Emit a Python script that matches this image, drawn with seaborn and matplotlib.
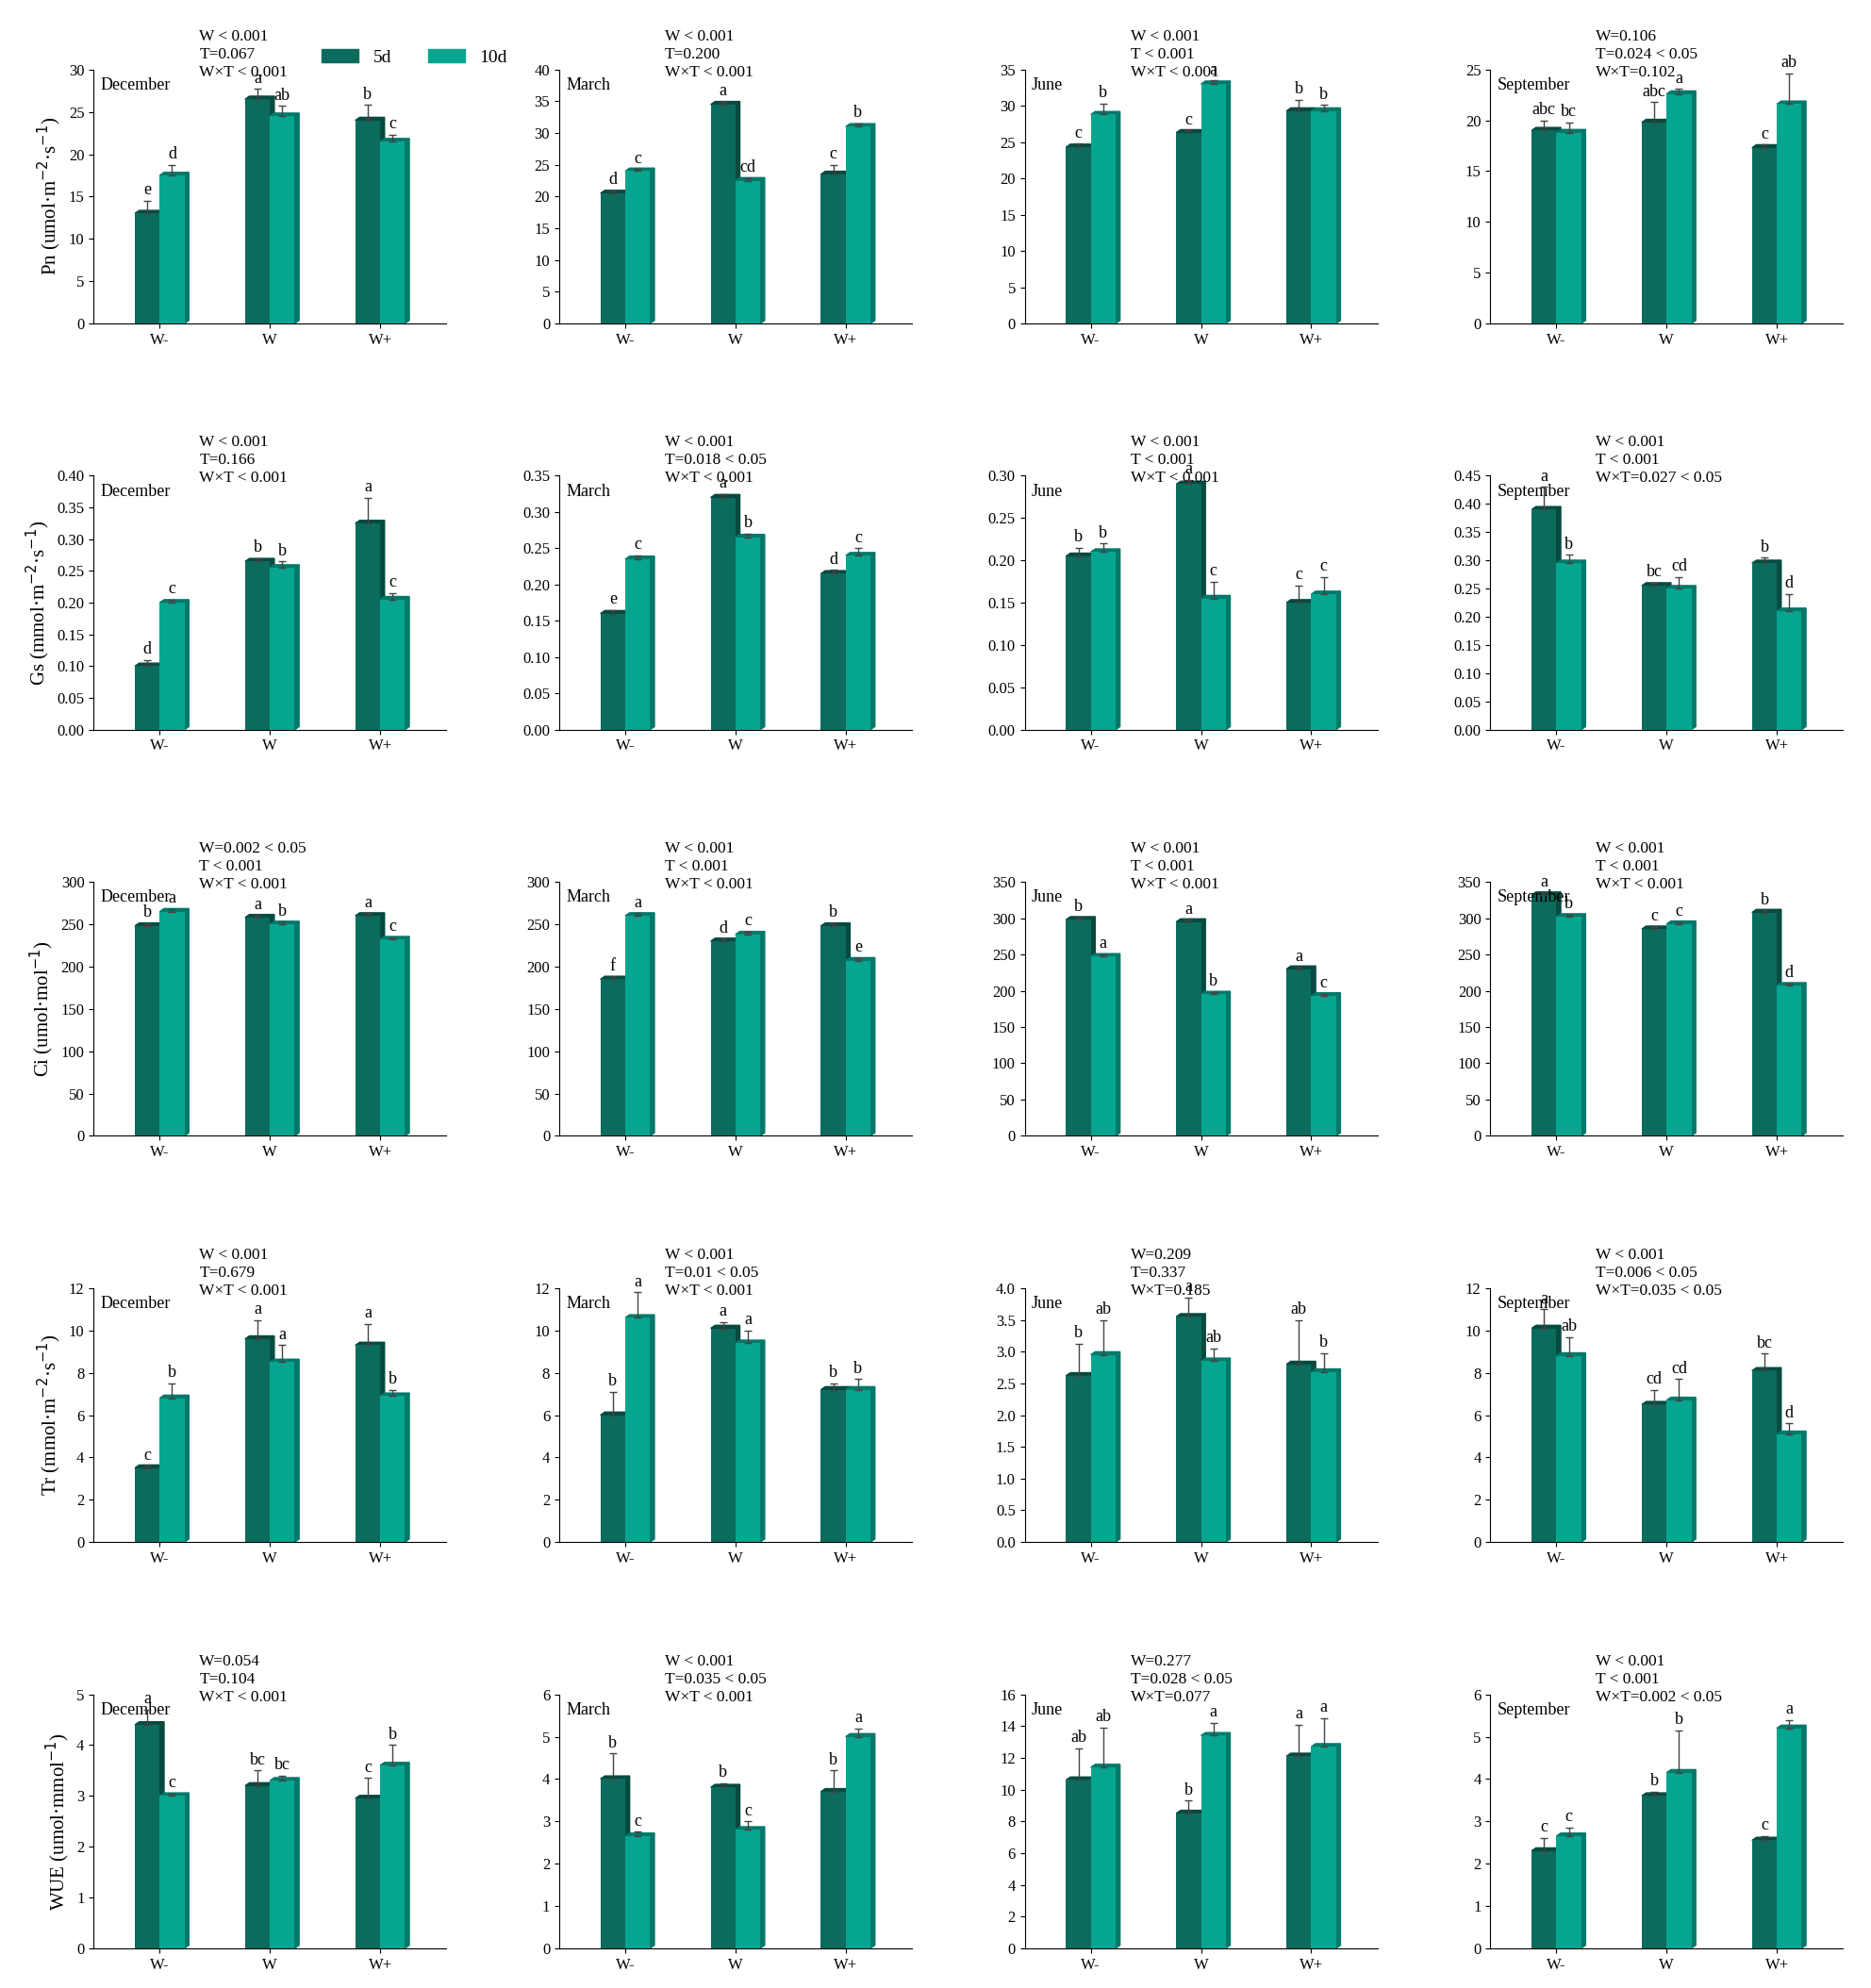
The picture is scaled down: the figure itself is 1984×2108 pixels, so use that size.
import pandas as pd
import matplotlib.pyplot as plt
import seaborn as sns
from matplotlib.patches import Polygon, Patch

plt.rcParams['font.family'] = 'Liberation Serif'

# ---------------- data ----------------
months = ['December', 'March', 'June', 'September']
water = ['W-', 'W', 'W+']
treat = ['5d', '10d']

ylabels = ['Pn (umol·m$^{-2}$·s$^{-1}$)', 'Gs (mmol·m$^{-2}$·s$^{-1}$)',
           'Ci (umol·mol$^{-1}$)', 'Tr (mmol·m$^{-2}$·s$^{-1}$)', 'WUE (umol·mmol$^{-1}$)']

ylims = [[(30, 5), (40, 5), (35, 5), (25, 5)],
         [(0.40, 0.05), (0.35, 0.05), (0.30, 0.05), (0.45, 0.05)],
         [(300, 50), (300, 50), (350, 50), (350, 50)],
         [(12, 2), (12, 2), (4, 0.5), (12, 2)],
         [(5, 1), (6, 1), (16, 2), (6, 1)]]
decimals = [0, 2, 0, [0, 0, 1, 0], 0]

mean_5d = [[[13, 26.5, 24], [20.5, 34.5, 23.5], [24.3, 26.3, 29.3], [19, 19.8, 17.3]],
           [[.10, .265, .325], [.16, .32, .215], [.205, .29, .15], [.39, .255, .295]],
           [[248, 258, 260], [185, 230, 248], [298, 295, 230], [332, 285, 308]],
           [[3.5, 9.6, 9.3], [6, 10.1, 7.2], [2.62, 3.55, 2.8], [10.1, 6.5, 8.1]],
           [[4.4, 3.2, 2.95], [4, 3.8, 3.7], [10.6, 8.5, 12.1], [2.3, 3.6, 2.55]]]
mean_10d = [[[17.5, 24.5, 21.5], [24, 22.5, 31], [28.8, 33, 29.3], [18.8, 22.6, 21.6]],
            [[.20, .255, .205], [.235, .265, .24], [.21, .155, .16], [.295, .25, .21]],
            [[265, 250, 232], [260, 238, 207], [247, 195, 193], [302, 292, 207]],
            [[6.8, 8.5, 6.9], [10.6, 9.4, 7.2], [2.95, 2.85, 2.68], [8.8, 6.7, 5.1]],
            [[3, 3.3, 3.6], [2.65, 2.8, 5], [11.4, 13.4, 12.7], [2.65, 4.15, 5.2]]]
err_5d = [[[1.5, 1.2, 1.8], [.5, .4, 1.5], [.5, .3, 1.5], [1, 2, .3]],
          [[.01, .005, .04], [.005, .005, .005], [.01, .005, .02], [.04, .005, .01]],
          [[3, 3, 3], [3, 3, 3], [3, 3, 3], [3, 3, 3]],
          [[.1, .9, 1], [1.1, .3, .3], [.5, .3, .7], [.9, .7, .8]],
          [[.3, .3, .4], [.6, .1, .5], [2, .8, 2], [.3, .1, .1]]]
err_10d = [[[1.2, 1.2, .8], [.3, .4, .5], [1.5, .5, .8], [1, .5, 3]],
           [[.005, .01, .01], [.005, .005, .01], [.01, .02, .02], [.015, .02, .03]],
           [[3, 3, 3], [3, 3, 3], [3, 3, 3], [3, 3, 3]],
           [[.7, .8, .3], [1.2, .6, .5], [.55, .2, .3], [.9, 1, .5]],
           [[.05, .1, .4], [.1, .2, .2], [2.5, .8, 1.8], [.2, 1, .2]]]
let_5d = [[['e', 'a', 'b'], ['d', 'a', 'c'], ['c', 'c', 'b'], ['abc', 'abc', 'c']],
          [['d', 'b', 'a'], ['e', 'a', 'd'], ['b', 'a', 'c'], ['a', 'bc', 'b']],
          [['b', 'a', 'a'], ['f', 'd', 'b'], ['b', 'a', 'a'], ['a', 'c', 'b']],
          [['c', 'a', 'a'], ['b', 'a', 'b'], ['b', 'a', 'ab'], ['a', 'cd', 'bc']],
          [['a', 'bc', 'c'], ['b', 'b', 'b'], ['ab', 'b', 'a'], ['c', 'b', 'c']]]
let_10d = [[['d', 'ab', 'c'], ['c', 'cd', 'b'], ['b', 'a', 'b'], ['bc', 'a', 'ab']],
           [['c', 'b', 'c'], ['c', 'b', 'c'], ['b', 'c', 'c'], ['b', 'cd', 'd']],
           [['a', 'b', 'c'], ['a', 'c', 'e'], ['a', 'b', 'c'], ['b', 'c', 'd']],
           [['b', 'a', 'b'], ['a', 'a', 'b'], ['ab', 'ab', 'b'], ['ab', 'cd', 'd']],
           [['c', 'bc', 'b'], ['c', 'c', 'a'], ['ab', 'a', 'a'], ['c', 'b', 'a']]]
stats = [[['W < 0.001', 'T=0.067', 'W×T < 0.001'], ['W < 0.001', 'T=0.200', 'W×T < 0.001'],
          ['W < 0.001', 'T < 0.001', 'W×T < 0.001'], ['W=0.106', 'T=0.024 < 0.05', 'W×T=0.102']],
         [['W < 0.001', 'T=0.166', 'W×T < 0.001'], ['W < 0.001', 'T=0.018 < 0.05', 'W×T < 0.001'],
          ['W < 0.001', 'T < 0.001', 'W×T < 0.001'], ['W < 0.001', 'T < 0.001', 'W×T=0.027 < 0.05']],
         [['W=0.002 < 0.05', 'T < 0.001', 'W×T < 0.001'], ['W < 0.001', 'T < 0.001', 'W×T < 0.001'],
          ['W < 0.001', 'T < 0.001', 'W×T < 0.001'], ['W < 0.001', 'T < 0.001', 'W×T < 0.001']],
         [['W < 0.001', 'T=0.679', 'W×T < 0.001'], ['W < 0.001', 'T=0.01 < 0.05', 'W×T < 0.001'],
          ['W=0.209', 'T=0.337', 'W×T=0.185'], ['W < 0.001', 'T=0.006 < 0.05', 'W×T=0.035 < 0.05']],
         [['W=0.054', 'T=0.104', 'W×T < 0.001'], ['W < 0.001', 'T=0.035 < 0.05', 'W×T < 0.001'],
          ['W=0.277', 'T=0.028 < 0.05', 'W×T=0.077'], ['W < 0.001', 'T < 0.001', 'W×T=0.002 < 0.05']]]

colors = {'5d': '#0b6b5c', '10d': '#06a58f'}
side = {'5d': '#064a40', '10d': '#04786a'}

# ---------------- plotting ----------------
fig, axes = plt.subplots(5, 4, figsize=(19.84, 21.08), dpi=100)
fig.subplots_adjust(left=0.05, right=0.985, top=0.965, bottom=0.02, hspace=0.6, wspace=0.32)

for r in range(5):
    for c in range(4):
        ax = axes[r, c]
        ymax, step = ylims[r][c]
        df = pd.DataFrame({
            'W': water * 2,
            'T': ['5d'] * 3 + ['10d'] * 3,
            'v': mean_5d[r][c] + mean_10d[r][c],
            'e': err_5d[r][c] + err_10d[r][c],
            'l': let_5d[r][c] + let_10d[r][c],
        })
        sns.barplot(data=df, x='W', y='v', hue='T', order=water, hue_order=treat,
                    palette=colors, saturation=1, width=0.45, gap=0, errorbar=None,
                    legend=False, ax=ax, edgecolor='none', zorder=3)
        dx, dy = 0.04, ymax * 0.012
        for p, (_, row) in zip(ax.patches, df.iterrows()):
            x0, w, h = p.get_x(), p.get_width(), p.get_height()
            ax.add_patch(Polygon([(x0 + w, 0), (x0 + w + dx, dy), (x0 + w + dx, h + dy), (x0 + w, h)],
                                 closed=True, color=side[row['T']], zorder=2))
            ax.add_patch(Polygon([(x0, h), (x0 + dx, h + dy), (x0 + w + dx, h + dy), (x0 + w, h)],
                                 closed=True, color=side[row['T']], zorder=2))
            xc = x0 + w / 2
            ax.errorbar(xc, h, yerr=[[0], [row['e']]], color='#444444', lw=1, capsize=3, zorder=4)
            ax.text(xc, h + row['e'] + ymax * 0.01, row['l'], ha='center', va='bottom', fontsize=13)
        ax.set_ylim(0, ymax)
        ax.set_xlim(-0.6, 2.6)
        ax.set_yticks([i * step for i in range(int(round(ymax / step)) + 1)])
        d = decimals[r][c] if isinstance(decimals[r], list) else decimals[r]
        ax.set_yticklabels([f'{t:.{d}f}' for t in ax.get_yticks()])
        ax.tick_params(labelsize=12)
        ax.set_xlabel('')
        ax.set_ylabel(ylabels[r] if c == 0 else '', fontsize=15)
        sns.despine(ax=ax)
        ax.text(0.02, 0.97, months[c], transform=ax.transAxes, fontsize=13, va='top')
        ax.text(0.3, 1.16, '\n'.join(stats[r][c]), transform=ax.transAxes,
                fontsize=12.5, va='top', linespacing=1.25)

axes[0, 0].legend(handles=[Patch(color=colors[t], label=t) for t in treat],
                  loc='lower left', bbox_to_anchor=(0.6, 0.95), ncol=2,
                  frameon=False, fontsize=14)

plt.savefig('out.png')
